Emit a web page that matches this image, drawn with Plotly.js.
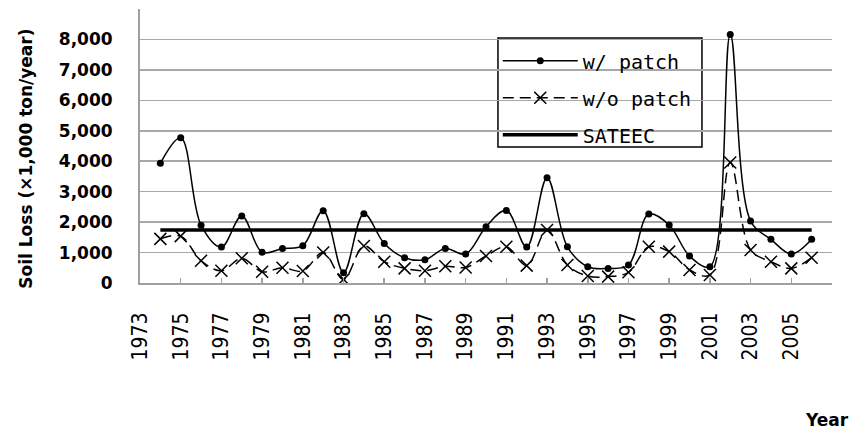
<!DOCTYPE html>
<html>
<head>
<meta charset="utf-8">
<script src="https://cdn.plot.ly/plotly-3.0.1.min.js"></script>
<style>html,body{margin:0;padding:0;background:#fff;}#chart{width:851px;height:430px;}</style>
</head>
<body>
<div id="chart"></div>
<script>
// Data
var years = [1974, 1975, 1976, 1977, 1978, 1979, 1980, 1981, 1982, 1983, 1984,
             1985, 1986, 1987, 1988, 1989, 1990, 1991, 1992, 1993, 1994, 1995,
             1996, 1997, 1998, 1999, 2000, 2001, 2002, 2003, 2004, 2005, 2006];
var withPatch = [3930, 4770, 1900, 1180, 2200, 1010, 1130, 1225, 2375, 340, 2275,
                 1300, 830, 765, 1130, 950, 1850, 2385, 1180, 3460, 1190, 535,
                 480, 590, 2265, 1905, 885, 535, 8165, 2035, 1435, 950, 1435];
var withoutPatch = [1450, 1540, 730, 400, 810, 370, 500, 395, 1000, 120, 1215,
                    700, 480, 405, 550, 510, 885, 1190, 570, 1740, 590, 230,
                    210, 350, 1190, 1030, 430, 265, 3960, 1085, 700, 480, 830];
var sateecValue = 1740;
var xTickYears = [1973, 1975, 1977, 1979, 1981, 1983, 1985, 1987, 1989, 1991,
                  1993, 1995, 1997, 1999, 2001, 2003, 2005];
var yTickValues = [0, 1000, 2000, 3000, 4000, 5000, 6000, 7000, 8000];
var seriesNames = ['w/ patch', 'w/o patch', 'SATEEC'];

var traces = [
  {
    x: years, y: withPatch, name: seriesNames[0], legendgroup: 'a',
    type: 'scatter', mode: 'lines+markers',
    line: {color: '#000', width: 1.5, shape: 'spline', smoothing: 1},
    marker: {symbol: 'circle', size: 7, color: '#000'}
  },
  {
    x: years, y: withoutPatch, name: seriesNames[1], legendgroup: 'b',
    type: 'scatter', mode: 'lines+markers',
    line: {color: '#000', width: 1.5, shape: 'spline', smoothing: 1, dash: '11px,6px'},
    marker: {symbol: 'x-thin', size: 12, color: '#000', line: {color: '#000', width: 1.5}}
  },
  {
    x: [years[0], years[years.length - 1]], y: [sateecValue, sateecValue],
    name: seriesNames[2], legendgroup: 'c',
    type: 'scatter', mode: 'lines',
    line: {color: '#000', width: 3.5}
  }
];

var layout = {
  width: 851, height: 430,
  margin: {l: 140, r: 19, t: 9, b: 147, pad: 0},
  paper_bgcolor: '#fff', plot_bgcolor: '#fff',
  showlegend: true,
  legend: {
    x: 0.517, y: 0.882, xanchor: 'left', yanchor: 'top',
    bgcolor: 'rgba(0,0,0,0)', borderwidth: 0,
    font: {family: 'DejaVu Sans Mono', size: 20, color: '#000'},
    itemwidth: 75, tracegroupgap: 8
  },
  shapes: [
    {
      type: 'rect', xref: 'paper', yref: 'paper', layer: 'between',
      x0: 0.5173, x1: 0.8121, y0: 0.4964, y1: 0.8942,
      fillcolor: '#fff', line: {color: '#000', width: 1.5}
    }
  ],
  xaxis: {
    range: [1973, 2007],
    tickmode: 'array', tickvals: xTickYears, ticktext: xTickYears.map(String),
    tickangle: -90,
    ticks: 'inside', ticklen: 5, tickwidth: 1.5, tickcolor: '#a0a0a0',
    showgrid: false, zeroline: false,
    showline: true, linecolor: '#a0a0a0', linewidth: 2,
    ticklabelstandoff: 19,
    tickfont: {family: 'DejaVu Sans Condensed', size: 21, color: '#000'}
  },
  yaxis: {
    range: [0, 9000],
    tickmode: 'array', tickvals: yTickValues, tickformat: ',d',
    ticks: '', showgrid: true, gridcolor: '#a8a8a8', gridwidth: 1.5,
    zeroline: false,
    showline: true, linecolor: '#a0a0a0', linewidth: 2,
    ticklabelstandoff: 22,
    tickfont: {family: 'DejaVu Sans', size: 17, weight: 'bold', color: '#000'}
  },
  annotations: [
    {
      text: 'Soil Loss (×1,000 ton/year)', textangle: -90,
      xref: 'paper', yref: 'paper', x: -0.166, y: 0.454,
      xanchor: 'center', yanchor: 'middle', showarrow: false,
      font: {family: 'DejaVu Sans', size: 17, weight: 'bold', color: '#000'}
    },
    {
      text: 'Year',
      xref: 'paper', yref: 'paper', x: 0.993, y: -0.5,
      xanchor: 'center', yanchor: 'middle', showarrow: false,
      font: {family: 'DejaVu Sans', size: 17, weight: 'bold', color: '#000'}
    }
  ]
};

Plotly.newPlot('chart', traces, layout, {displayModeBar: false, staticPlot: true});
</script>
</body>
</html>
